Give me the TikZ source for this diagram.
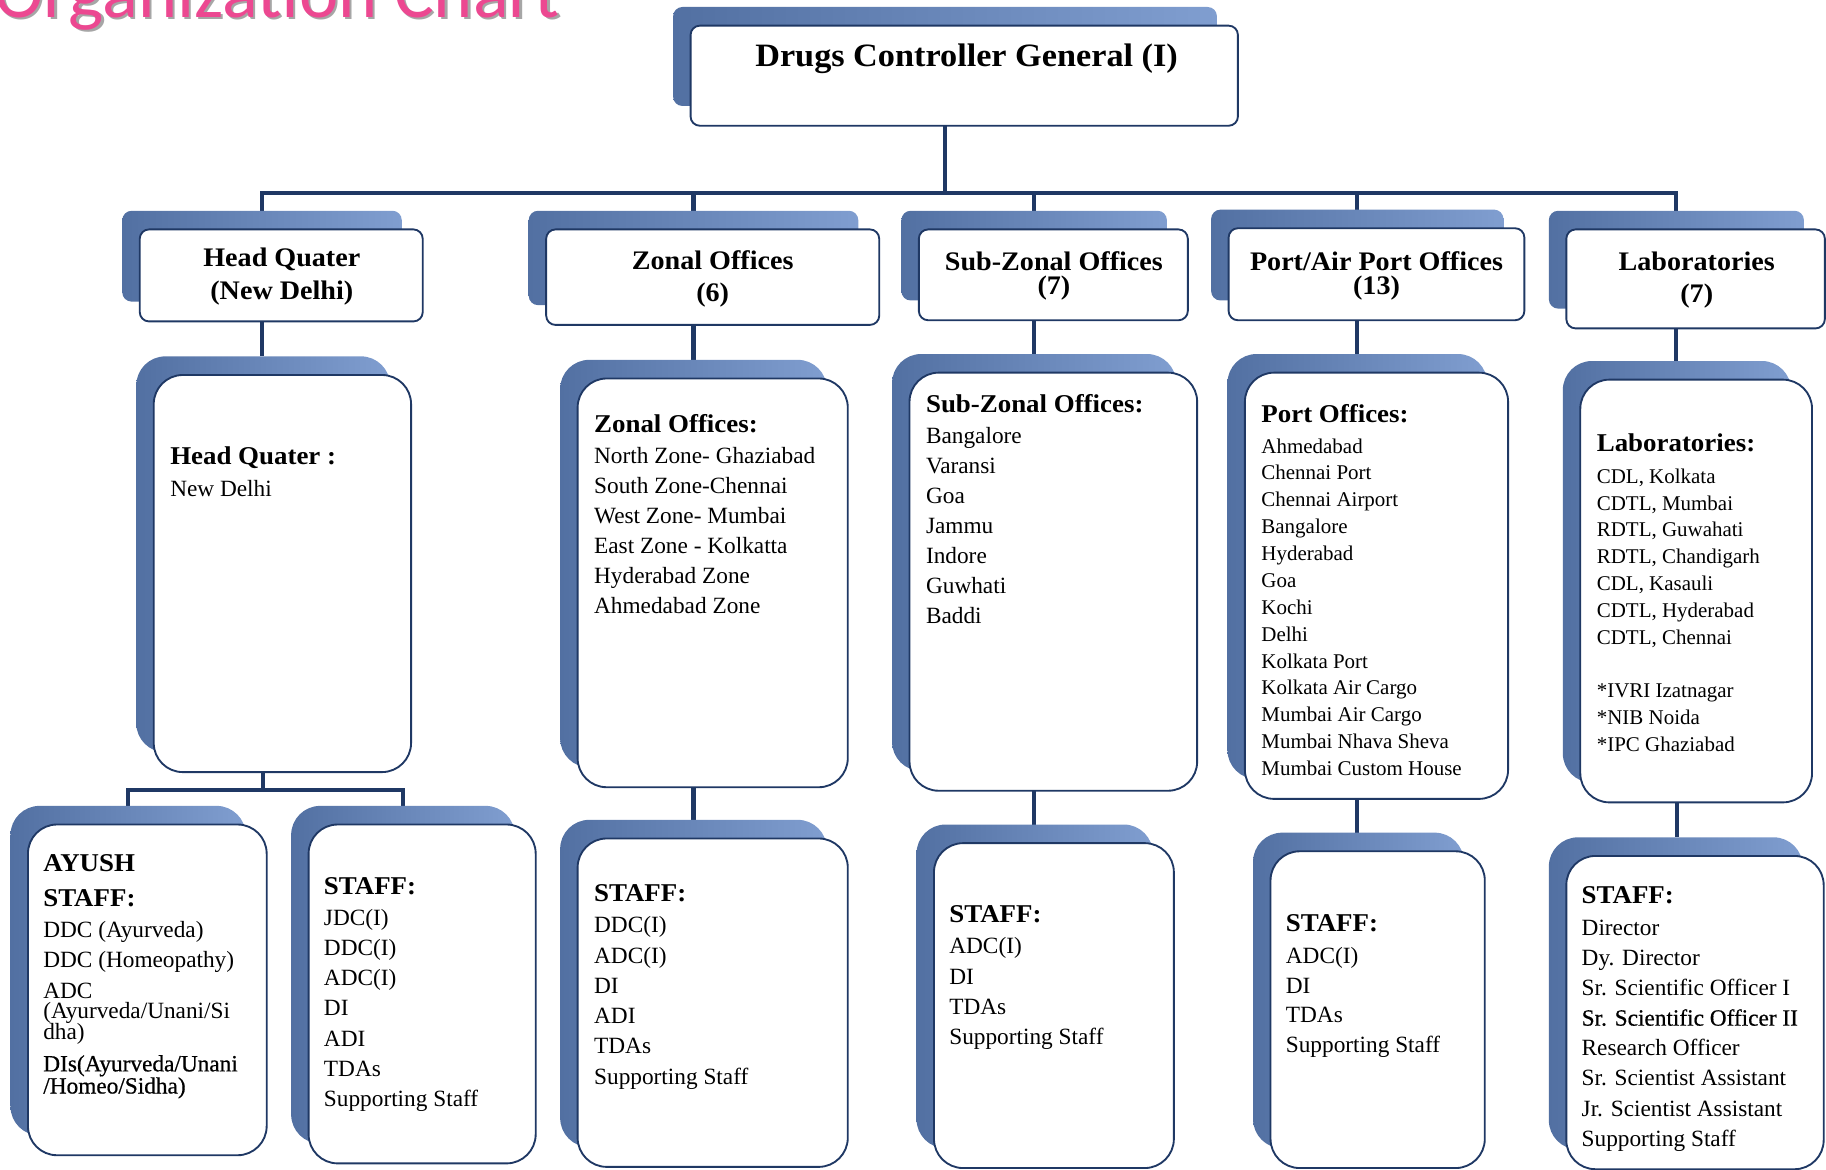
\documentclass[tikz,border=0pt]{standalone}
\usepackage{fontspec}
\setmainfont{Liberation Serif}
\newfontfamily\hfont[FakeStretch=1.05]{Liberation Serif}
\newfontfamily\semib[FakeBold=0.6]{Liberation Serif}
\newfontfamily\titlefont{Carlito}
\usetikzlibrary{backgrounds}
\definecolor{navy}{RGB}{31,56,100}
\definecolor{shL}{RGB}{82,112,162}
\definecolor{shR}{RGB}{128,158,208}
\definecolor{pinkT}{RGB}{236,72,145}
\tikzset{
  conn/.style={draw=navy, line width=3.5pt},
  frontbox/.style={draw=navy, line width=1.6pt, fill=white, inner sep=0pt, outer sep=0pt},
  shadowb/.style={left color=shL, right color=shR, inner sep=0pt, outer sep=0pt},
  hd/.style={anchor=base, inner sep=0pt, align=center, font=\hfont\bfseries\fontsize{23}{28}\selectfont},
  hdtight/.style={hd, font=\hfont\bfseries\fontsize{23}{21}\selectfont},
  hb/.style={anchor=base west, inner sep=0pt, font=\hfont\bfseries\fontsize{22}{26}\selectfont},
  bt/.style={anchor=base west, inner sep=0pt, font=\fontsize{20}{24}\selectfont},
  bs/.style={anchor=base west, inner sep=0pt, font=\fontsize{18}{22}\selectfont}
}
% #1 name, #2 x1, #3 y1, #4 x2, #5 y2, #6 corner radius
\newcommand\obox[6]{%
  \node[shadowb, rounded corners=#6, minimum width={#4-#2-3}, minimum height={#5-#3-1}]
     (#1S) at ({(#2+#4)/2-16.5},{(#3+#5)/2-16.5}) {};
  \node[frontbox, rounded corners=#6, minimum width={#4-#2}, minimum height={#5-#3}]
     (#1) at ({(#2+#4)/2},{(#3+#5)/2}) {};
}
% #1 prefix, #2 x, #3 first baseline, #4 step, #5 style, #6 items
\newcommand\itemlist[6]{%
  \foreach \t [count=\i from 0] in {#6}
    \node[#5] (#1\i) at (#2,{#3+#4*\i}) {\t};
}
\begin{document}
\begin{tikzpicture}[x=1pt,y=-1pt]
\useasboundingbox (0,0) rectangle (1568,1004);
\clip (0,0) rectangle (1568,1004);

% title (cut at the top edge)
\node[anchor=base west, inner sep=0pt, text=black!35, font=\titlefont\fontsize{64}{64}\selectfont] (titleshadow) at (-3,17) {Organization Chart};
\node[anchor=base west, inner sep=0pt, text=pinkT, font=\titlefont\fontsize{64}{64}\selectfont] (title) at (-5,15) {Organization Chart};

% boxes
\obox{dcg}{593}{22}{1063}{108}{8}
\obox{hq}{120}{197}{363}{276}{8}
\obox{zo}{469}{197}{755}{279}{8}
\obox{sz}{789}{197}{1020}{275}{8}
\obox{po}{1055}{196}{1309}{275}{8}
\obox{lab}{1345}{197}{1567}{282}{8}
\obox{hqc}{132}{322}{353}{663}{25}
\obox{zoc}{496}{325}{728}{676}{25}
\obox{szc}{781}{320}{1028}{679}{25}
\obox{poc}{1069}{320}{1295}{686}{25}
\obox{labc}{1357}{326}{1556}{689}{25}
\obox{ay}{24}{708}{229}{992}{25}
\obox{hqs}{265}{708}{460}{999}{25}
\obox{zos}{496}{720}{728}{1002}{25}
\obox{szs}{802}{724}{1008}{1003}{25}
\obox{pos}{1091}{731}{1275}{1003}{25}
\obox{labs}{1345}{735}{1566}{1004}{25}

% connectors
\coordinate (bus) at (0,166);
\coordinate (split) at (0,678);
\begin{pgfonlayer}{background}
\draw[conn] (dcgS.south) -- (dcgS.south |- bus);
\draw[conn] (hqS.north) -- (hqS.north |- bus) -- (labS.north |- bus) -- (labS.north);
\foreach \n in {zoS,szS,poS} \draw[conn] (\n.north) -- (\n.north |- bus);
\draw[conn] (hqS.south) -- (hqS.south |- hqcS.north);
\draw[conn] (zoS.south) -- (zoS.south |- zocS.north);
\draw[conn] (szS.south) -- (szS.south |- szcS.north);
\draw[conn] (poS.south) -- (poS.south |- pocS.north);
\draw[conn] (labS.south) -- (labS.south |- labcS.north);
\draw[conn] (zocS.south) -- (zocS.south |- zosS.north);
\draw[conn] (szcS.south) -- (szcS.south |- szsS.north);
\draw[conn] (pocS.south) -- (pocS.south |- posS.north);
\draw[conn] (labcS.south) -- (labcS.south |- labsS.north);
\draw[conn] (hqcS.south) -- (hqcS.south |- split);
\draw[conn] (ayS.north) -- (ayS.north |- split) -- (hqsS.north |- split) -- (hqsS.north);
\end{pgfonlayer}

% header texts (base anchor = baseline of the last line)
\node[hd, font=\hfont\bfseries\fontsize{28}{30}\selectfont] (dcgt) at (830,57) {Drugs Controller General (I)};
\node[hd] (hqt) at (242,257) {Head Quater\\(New Delhi)};
\node[hd] (zot) at (612,259) {Zonal Offices\\(6)};
\node[hdtight] (szt) at (905,253) {Sub-Zonal Offices\\(7)};
\node[hdtight] (pot) at (1182,253) {Port/Air Port Offices\\(13)};
\node[hd] (labt) at (1457,260) {Laboratories\\(7)};

% middle row contents
\node[hb] (hqch) at (146,399) {Head Quater :};
\node[bt] (hqc0) at (146,426) {New Delhi};

\node[hb] (zoch) at (510,371) {Zonal Offices:};
\itemlist{zocl}{510}{398}{25.8}{bt}{North Zone- Ghaziabad, South Zone-Chennai, West Zone- Mumbai, East Zone - Kolkatta, Hyderabad Zone, Ahmedabad Zone}

\node[hb] (szch) at (795,354) {Sub-Zonal Offices:};
\itemlist{szcl}{795}{381}{25.8}{bt}{Bangalore, Varansi, Goa, Jammu, Indore, Guwhati, Baddi}

\node[hb] (poch) at (1083,363) {Port Offices:};
\itemlist{pocl}{1083}{389}{23.08}{bs}{Ahmedabad, Chennai Port, Chennai Airport, Bangalore, Hyderabad, Goa, Kochi, Delhi, Kolkata Port, Kolkata Air Cargo, Mumbai Air Cargo, Mumbai Nhava Sheva, Mumbai Custom House}

\node[hb] (labch) at (1371,388) {Laboratories:};
\itemlist{labcl}{1371}{415}{23}{bs}{{CDL, Kolkata}, {CDTL,  Mumbai}, {RDTL, Guwahati}, {RDTL, Chandigarh}, {CDL, Kasauli}, {CDTL, Hyderabad}, {CDTL, Chennai}, {}, *IVRI Izatnagar, *NIB Noida, *IPC Ghaziabad}

% bottom row contents
\node[hb] (ayh1) at (37,748) {AYUSH};
\node[hb] (ayh2) at (37,778) {STAFF:};
\node[bt] (ay1) at (37,805) {DDC (Ayurveda)};
\node[bt] (ay2) at (37,831) {DDC (Homeopathy)};
\node[bt] (ay3) at (37,857) {ADC};
\node[bt] (ay4) at (37,875) {(Ayurveda/Unani/Si};
\node[bt] (ay5) at (37,893) {dha)};
\node[bt, font=\semib\fontsize{20}{24}\selectfont] (ay6) at (37,920) {DIs(Ayurveda/Unani};
\node[bt, font=\semib\fontsize{20}{24}\selectfont] (ay7) at (37,939) {/Homeo/Sidha)};

\node[hb] (hqsh) at (278,768) {STAFF:};
\itemlist{hqsl}{278}{795}{25.8}{bt}{JDC(I), DDC(I), ADC(I), DI, ADI, TDAs, Supporting Staff}

\node[hb] (zosh) at (510,774) {STAFF:};
\itemlist{zosl}{510}{801}{26}{bt}{DDC(I), ADC(I), DI, ADI, TDAs, Supporting Staff}

\node[hb] (szsh) at (815,792) {STAFF:};
\itemlist{szsl}{815}{819}{26}{bt}{ADC(I), DI, TDAs, Supporting Staff}

\node[hb] (posh) at (1104,800) {STAFF:};
\itemlist{posl}{1104}{827}{25.7}{bt}{ADC(I), DI, TDAs, Supporting Staff}

\node[hb] (labsh) at (1358,776) {STAFF:};
\itemlist{labsl}{1358}{803}{25.9}{bt}{Director, Dy. Director, Sr. Scientific Officer I, {\semib Sr. Scientific Officer II}, Research Officer, Sr. Scientist Assistant, Jr. Scientist Assistant, Supporting Staff}
\end{tikzpicture}
\end{document}
